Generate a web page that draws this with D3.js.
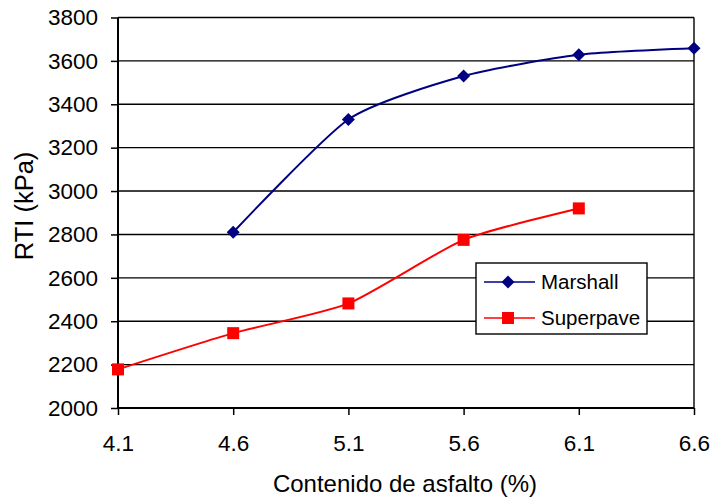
<!DOCTYPE html>
<html><head><meta charset="utf-8">
<script src="https://cdn.jsdelivr.net/npm/d3@7"></script>
<style>body{margin:0;background:#fff}svg{display:block;font-family:"Liberation Sans",Arial,sans-serif}</style>
</head><body><svg id="c" width="711" height="503"></svg>
<script>
const xTicks = [4.1, 4.6, 5.1, 5.6, 6.1, 6.6];
const yTicks = [2000, 2200, 2400, 2600, 2800, 3000, 3200, 3400, 3600, 3800];
const marshallX = [4.6, 5.1, 5.6, 6.1, 6.6];
const marshallY = [2810, 3330, 3530, 3628, 3658];
const superpaveX = [4.1, 4.6, 5.1, 5.6, 6.1];
const superpaveY = [2178, 2345, 2482, 2775, 2920];
const seriesNames = ["Marshall", "Superpave"];

const svg = d3.select("#c");
const L = 118, R = 694, T = 17.5, B = 408;
const x = d3.scaleLinear().domain([4.1, 6.6]).range([L, R]);
const y = d3.scaleLinear().domain([2000, 3800]).range([B, T]);

// gridlines
svg.append("g").selectAll("line").data(yTicks).join("line")
  .attr("x1", L).attr("x2", R).attr("y1", d => y(d)).attr("y2", d => y(d))
  .attr("stroke", "#000").attr("stroke-width", 1.4);
// right border
svg.append("line").attr("x1", R).attr("x2", R).attr("y1", T).attr("y2", B).attr("stroke", "#000").attr("stroke-width", 1.4);

// axes
const yAxis = d3.axisLeft(y).tickValues(yTicks).tickSize(7).tickPadding(13).tickFormat(d3.format("d"));
const xAxis = d3.axisBottom(x).tickValues(xTicks).tickSize(7).tickPadding(20).tickFormat(d3.format(".1f"));
const gy = svg.append("g").attr("transform", `translate(${L},0)`).call(yAxis);
const gx = svg.append("g").attr("transform", `translate(0,${B})`).call(xAxis);
[gx, gy].forEach(g => {
  g.select(".domain").attr("stroke", "#000").attr("stroke-width", 2);
  g.selectAll(".tick line").attr("stroke", "#000").attr("stroke-width", 1.5);
  g.selectAll("text").attr("font-size", 22.5).attr("fill", "#000").attr("font-family", "Liberation Sans, Arial, sans-serif");
});
gx.select(".domain").attr("d", `M${L},0H${R}`);
gy.select(".domain").attr("d", `M0,${T}V${B}`);

// lines
const line = d3.line().x(d => x(d[0])).y(d => y(d[1])).curve(d3.curveCardinal.tension(0.35));
const mData = marshallX.map((v, i) => [v, marshallY[i]]);
const sData = superpaveX.map((v, i) => [v, superpaveY[i]]);
const blue = "#000080", red = "#ff0000";
svg.append("path").datum(mData).attr("d", line).attr("fill", "none").attr("stroke", blue).attr("stroke-width", 2);
svg.append("path").datum(sData).attr("d", line).attr("fill", "none").attr("stroke", red).attr("stroke-width", 2);

const diamond = (cx, cy, s) => `M${cx},${cy - s}L${cx + s},${cy}L${cx},${cy + s}L${cx - s},${cy}Z`;
svg.append("g").selectAll("path").data(mData).join("path")
  .attr("d", d => diamond(x(d[0]), y(d[1]), 6.5)).attr("fill", blue);
svg.append("g").selectAll("rect").data(sData).join("rect")
  .attr("x", d => x(d[0]) - 6).attr("y", d => y(d[1]) - 6).attr("width", 12).attr("height", 12).attr("fill", red);

// axis titles
svg.append("text").attr("x", 405).attr("y", 492).attr("text-anchor", "middle").attr("font-size", 24).text("Contenido de asfalto (%)");
svg.append("text").attr("transform", "translate(33,206) rotate(-90)").attr("text-anchor", "middle").attr("font-size", 25.5).text("RTI (kPa)");

// legend
const lg = svg.append("g");
lg.append("rect").attr("x", 476).attr("y", 263).attr("width", 171).attr("height", 71).attr("fill", "#fff").attr("stroke", "#000").attr("stroke-width", 1.4);
const rows = [{n: seriesNames[0], c: blue, y: 282, m: "d"}, {n: seriesNames[1], c: red, y: 318, m: "s"}];
rows.forEach(r => {
  lg.append("line").attr("x1", 484).attr("x2", 535).attr("y1", r.y).attr("y2", r.y).attr("stroke", r.c).attr("stroke-width", 1.5);
  if (r.m === "d") lg.append("path").attr("d", diamond(508, r.y, 6.5)).attr("fill", r.c);
  else lg.append("rect").attr("x", 502).attr("y", r.y - 6).attr("width", 12).attr("height", 12).attr("fill", r.c);
  lg.append("text").attr("x", 541).attr("y", r.y + 7).attr("font-size", 20.5).text(r.n);
});
</script></body></html>
